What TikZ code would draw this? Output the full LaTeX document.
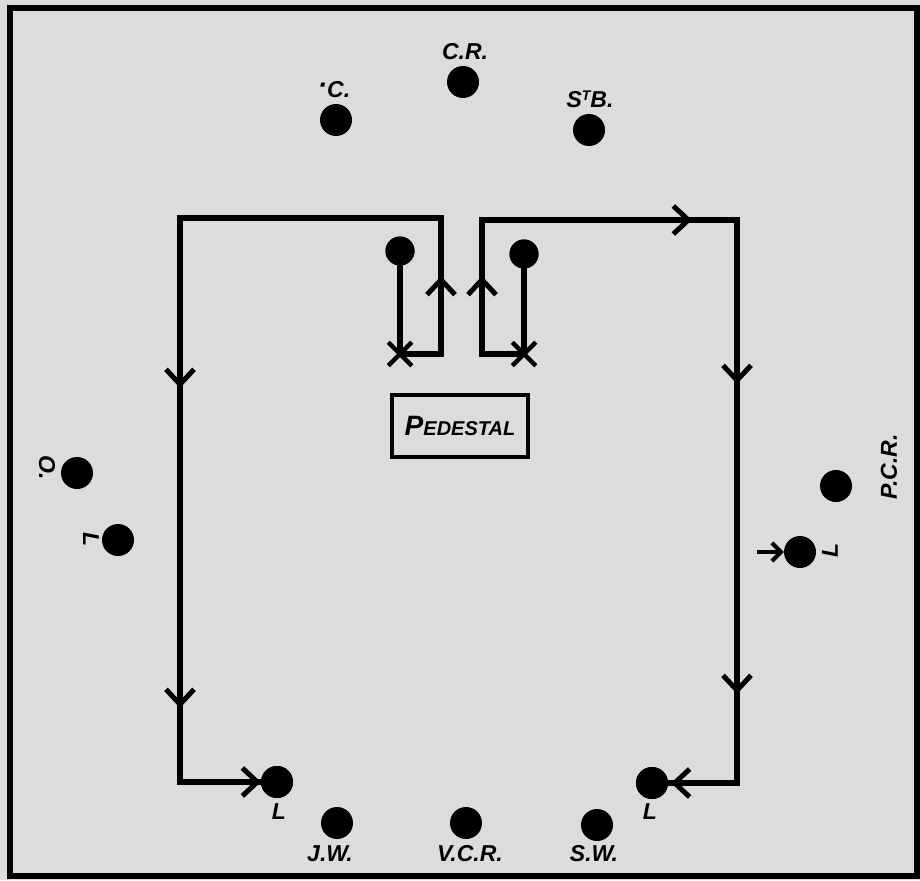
\documentclass[tikz,border=0pt]{standalone}
\usepackage{fontspec}
\setmainfont{Liberation Sans}
\usetikzlibrary{arrows.meta,decorations.markings,shapes.misc}
\definecolor{paper}{HTML}{DCDCDC}
\tikzset{
  >={Straight Barb[length=15pt,width=28pt,line width=5pt]},
  lbl/.style={font=\fontsize{23}{23}\selectfont\bfseries\itshape, inner sep=0pt},
  bigdot/.style={circle, fill=black, minimum size=32pt, inner sep=0pt},
  pdot/.style={circle, fill=black, minimum size=29pt, inner sep=0pt},
  wire/.style={line width=5.5pt, line join=miter},
  xm/.style={cross out, draw, line width=4.5pt, minimum size=19pt, inner sep=0pt},
  pbox/.style={draw, line width=4.5pt, minimum width=136pt, minimum height=62pt, inner sep=0pt},
}
\begin{document}
\begin{tikzpicture}[x=1pt,y=-1pt]
\fill[paper] (0,0) rectangle (920,880);
\useasboundingbox (0,0) rectangle (920,880);
\draw[line width=5.5pt] (10,8) rectangle (917,876);

% pedestal dots and crosses
\node[pdot] (pl) at (400,251) {};
\node[pdot] (pr) at (524,254) {};
\node[xm] (xl) at (400,354) {};
\node[xm] (xr) at (524,354) {};
\node[pbox] (ped) at (460,426) {};
\node[lbl] at (ped.center) {{\fontsize{28}{28}\selectfont P}{\fontsize{20}{20}\selectfont EDESTAL}};

% corners
\coordinate (l1) at (441,354);
\coordinate (l2) at (441,218);
\coordinate (l3) at (180,218);
\coordinate (l4) at (180,782);
\coordinate (r1) at (482,354);
\coordinate (r2) at (482,220);
\coordinate (r3) at (737,220);
\coordinate (r4) at (737,783);

% bottom L dots
\node[bigdot] (ll) at (277,782) {};
\node[bigdot] (lr) at (652,783) {};

% left loop
\draw[wire, decoration={markings,
   mark=at position 222pt with {\arrow{>}},
   mark=at position 711pt with {\arrow{>}},
   mark=at position 1031pt with {\arrow{>}},
   mark=at position 1186pt with {\arrow{>}}}, postaction=decorate]
  (pl.center) -- (xl.center) -- (l1) -- (l2) -- (l3) -- (l4) -- (ll.center);

% right loop
\draw[wire, decoration={markings,
   mark=at position 220pt with {\arrow{>}},
   mark=at position 486pt with {\arrow{>}},
   mark=at position 695pt with {\arrow{>}},
   mark=at position 1005pt with {\arrow{>}},
   mark=at position 1160pt with {\arrow{>}}}, postaction=decorate]
  (pr.center) -- (xr.center) -- (r1) -- (r2) -- (r3) -- (r4) -- (lr.center);

\node[pdot] at (pl) {};
\node[pdot] at (pr) {};
\node[bigdot] at (ll) {};
\node[bigdot] at (lr) {};

% top dots
\node[bigdot] (c) at (336,120) {};
\node[lbl, anchor=south] at (334,98) {\raisebox{0.25ex}{\fontsize{28}{28}\selectfont ·}C.};
\node[bigdot] (cr) at (463,82) {};
\node[lbl, anchor=south] at (465,60) {C.R.};
\node[bigdot] (stb) at (589,130) {};
\node[lbl, anchor=south] at (590,108) {S\raisebox{0.55ex}{\fontsize{14}{14}\selectfont T}B.};

% left dots
\node[bigdot] (o) at (77,473) {};
\node[lbl, rotate=-90] at (47,468) {O.};
\node[bigdot] (lw) at (118,540) {};
\node[lbl, rotate=-90] at (91,540) {L};

% right dots
\node[bigdot] (pcr) at (836,486) {};
\node[lbl, rotate=90] at (889,467) {P.C.R.};
\node[bigdot] (le) at (800,552) {};
\node[lbl, rotate=90] at (830,550) {L};
\coordinate (la) at (757,552);
\draw[line width=4.5pt, -{Straight Barb[length=9pt,width=18pt,line width=4pt]}] (la) -- (le.west);

% bottom labels
\node[lbl] at (279,812) {L};
\node[lbl] at (650,812) {L};
\node[bigdot] (jw) at (337,823) {};
\node[lbl, anchor=north] at (330,845) {J.W.};
\node[bigdot] (vcr) at (466,823) {};
\node[lbl, anchor=north] at (470,845) {V.C.R.};
\node[bigdot] (sw) at (597,825) {};
\node[lbl, anchor=north] at (594,845) {S.W.};
\end{tikzpicture}
\end{document}
